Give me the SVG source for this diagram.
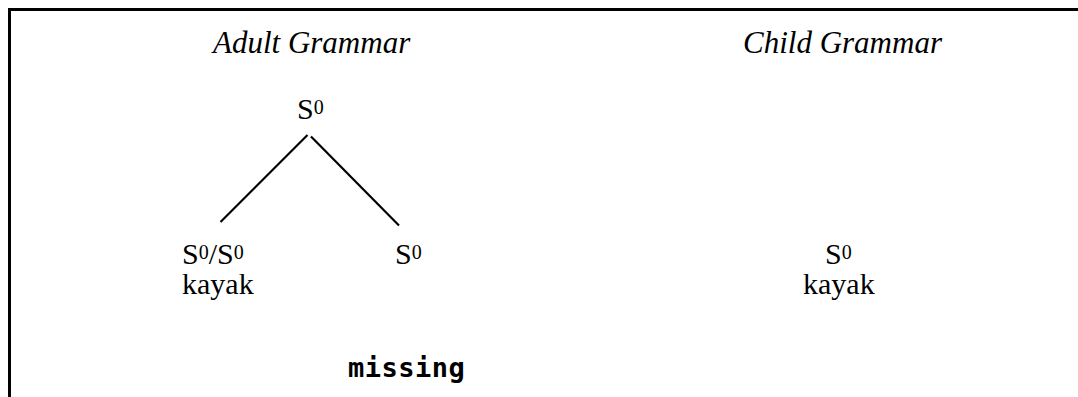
<svg xmlns="http://www.w3.org/2000/svg" width="1078" height="397" viewBox="0 0 1078 397">
<style>
.t{font-family:"Liberation Serif","Times New Roman",serif;font-size:30px;fill:#000}
.it{font-style:italic;font-size:31px}
.sup{font-size:20px}
.edge{stroke:#000;stroke-width:2.2;fill:none}
.frame{stroke:#000;stroke-width:3;fill:none}
.miss{font-family:"DejaVu Sans Mono",monospace;font-weight:bold;font-size:27px;letter-spacing:0.5px;fill:#000}
</style>
<rect width="1078" height="397" fill="#fff"/>
<path class="frame" d="M9.5,397 V9.5 H1078"/>
<text class="t it" x="213" y="53">Adult Grammar</text>
<text class="t it" x="743" y="53">Child Grammar</text>
<g id="adult-root"><text class="t" x="297" y="119">S<tspan class="sup" dy="-5">0</tspan></text></g>
<g id="adult-left"><text class="t" x="182" y="264">S<tspan class="sup" dy="-5">0</tspan><tspan dy="5">/S</tspan><tspan class="sup" dy="-5">0</tspan></text><text class="t" x="182" y="294">kayak</text></g>
<g id="adult-right"><text class="t" x="395" y="264">S<tspan class="sup" dy="-5">0</tspan></text></g>
<g id="child-node"><text class="t" x="825" y="264">S<tspan class="sup" dy="-5">0</tspan></text><text class="t" x="803" y="294">kayak</text></g>
<g id="missing"><text class="miss" x="348" y="377">missing</text></g>
<g id="connectors">
<line class="edge" x1="307.5" y1="135" x2="220.5" y2="222"/>
<line class="edge" x1="311" y1="136.5" x2="399" y2="225.5"/>
</g>
</svg>
